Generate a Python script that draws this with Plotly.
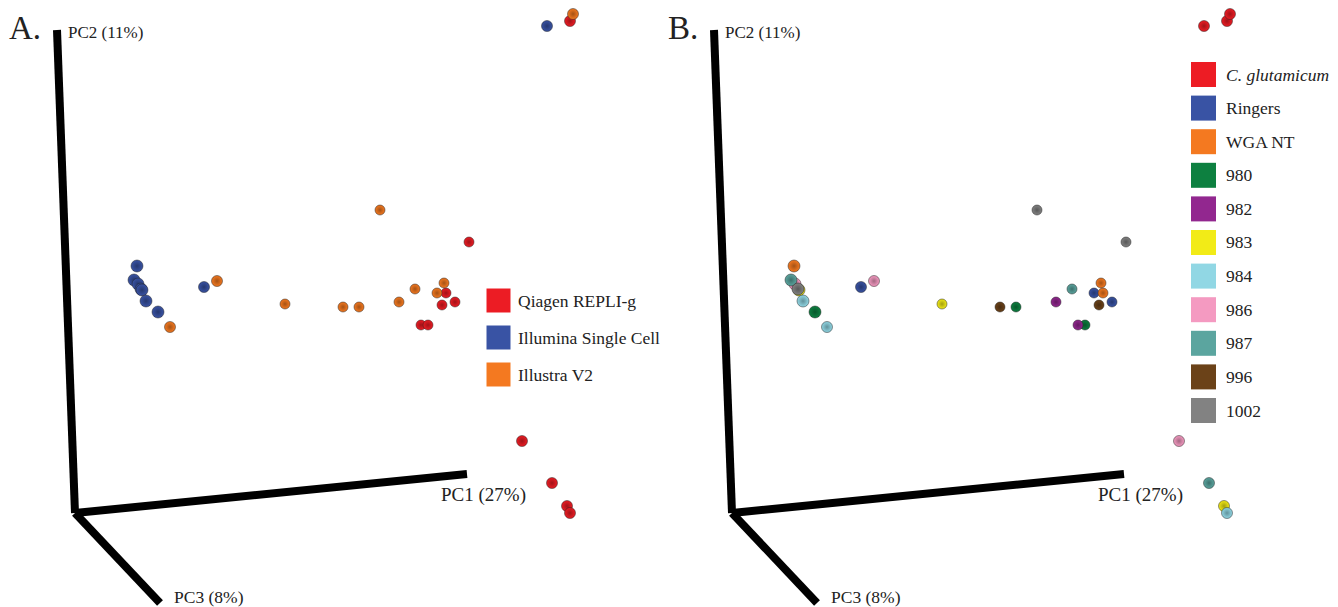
import plotly.graph_objects as go

# ---- data: projected PCoA coordinates (screen-projected, origin at axis corner) ----
proj_x = [62, 59, 63, 66, 67, 71, 83, 95, 129, 142, 210, 268, 284, 305, 394,
          324, 340, 369, 362, 371, 367, 380, 346, 353, 472, 495, 498, 447, 477, 492, 495]
proj_y = [247, 233, 229, 224, 223, 212, 201, 186, 226, 232, 209, 206, 206, 303, 271,
          211, 224, 230, 220, 220, 208, 211, 188, 188, 487, 492, 499, 72, 30, 7, 0]
method = ["Illumina Single Cell"] * 7 + ["Illustra V2", "Illumina Single Cell"] + ["Illustra V2"] * 5 + \
         ["Qiagen REPLI-g"] + ["Illustra V2"] * 4 + ["Qiagen REPLI-g"] * 5 + \
         ["Illumina Single Cell", "Qiagen REPLI-g", "Illustra V2"] + ["Qiagen REPLI-g"] * 4
sample = ["WGA NT", "987", "986", "1002", "983", "984", "980", "984", "Ringers", "986",
          "983", "996", "980", "1002", "1002", "982", "987", "WGA NT", "Ringers", "WGA NT",
          "996", "Ringers", "982", "980", "C. glutamicum", "C. glutamicum", "C. glutamicum",
          "986", "987", "983", "984"]
point_size = [12, 12, 12, 12, 12, 12, 12, 11, 11, 11, 10, 10, 10, 10, 10,
              10, 10, 10, 10, 10, 10, 10, 10, 10, 11, 11, 11, 11, 11, 11, 11]

methods = ["Qiagen REPLI-g", "Illumina Single Cell", "Illustra V2"]
method_colors = ["#ec1c24", "#3953a4", "#f47920"]
samples = ["C. glutamicum", "Ringers", "WGA NT", "980", "982", "983", "984", "986", "987", "996", "1002"]
sample_colors = ["#ed1c24", "#3953a4", "#f47920", "#0d8040", "#92278f", "#f2eb17",
                 "#91d7e4", "#f49ac1", "#5ba59f", "#6b4218", "#828282"]
axis_labels = ["PC1 (27%)", "PC2 (11%)", "PC3 (8%)"]


def darker(hexc, f=0.68):
    r, g, b = int(hexc[1:3], 16), int(hexc[3:5], 16), int(hexc[5:7], 16)
    return "rgb(%d,%d,%d)" % (r * f, g * f, b * f)


W, H = 1338, 607
fig = go.Figure()

panels = [("x", "y", "methods"), ("x2", "y2", "samples")]
for xa, ya, kind in panels:
    cats = methods if kind == "methods" else samples
    cols = method_colors if kind == "methods" else sample_colors
    keys = method if kind == "methods" else sample
    for cat, col in zip(cats, cols):
        idx = [i for i, k in enumerate(keys) if k == cat]
        fig.add_trace(go.Scatter(
            x=[proj_x[i] for i in idx], y=[proj_y[i] for i in idx],
            mode="markers", xaxis=xa, yaxis=ya, showlegend=False, name=cat,
            marker=dict(color=col, size=[point_size[i] for i in idx], opacity=1,
                        gradient=dict(type="radial", color=darker(col)),
                        line=dict(color="rgba(30,30,30,0.6)", width=0.8)),
            hoverinfo="name"))

# ---- axis decoration (3D-style PC axes) ----
origin = (0, 0)
axis_ends = {"PC1": (392, 39), "PC2": (-18, 483), "PC3": (85, -90)}
shapes = []
annotations = []
serif = "Liberation Serif"
for xa, ya in [("x", "y"), ("x2", "y2")]:
    for k, (ex, ey) in axis_ends.items():
        shapes.append(dict(type="line", xref=xa, yref=ya, x0=origin[0], y0=origin[1],
                           x1=ex, y1=ey, line=dict(color="black", width=8), layer="below"))
    annotations += [
        dict(text=axis_labels[1], x=-9, y=481, xref=xa, yref=ya, xanchor="left", yanchor="middle",
             showarrow=False, font=dict(size=17, color="#222", family=serif)),
        dict(text=axis_labels[0], x=364, y=18, xref=xa, yref=ya, xanchor="left", yanchor="middle",
             showarrow=False, font=dict(size=19, color="#222", family=serif)),
        dict(text=axis_labels[2], x=97, y=-84, xref=xa, yref=ya, xanchor="left", yanchor="middle",
             showarrow=False, font=dict(size=17.5, color="#222", family=serif)),
    ]

# panel letters
annotations.append(dict(text="A.", x=7 / W, y=1 - 28 / H, xref="paper", yref="paper",
                        xanchor="left", yanchor="middle", showarrow=False,
                        font=dict(size=33, color="#222", family=serif)))
annotations.append(dict(text="B.", x=666 / W, y=1 - 28 / H, xref="paper", yref="paper",
                        xanchor="left", yanchor="middle", showarrow=False,
                        font=dict(size=33, color="#222", family=serif)))


# ---- custom legends (swatch + label) ----
def legend(cats, cols, x_sw, y0, step, sw, x_txt, italic_first=False):
    for i, (c, col) in enumerate(zip(cats, cols)):
        cy = y0 + i * step
        shapes.append(dict(type="rect", xref="paper", yref="paper",
                           x0=(x_sw - sw / 2) / W, x1=(x_sw + sw / 2) / W,
                           y0=1 - (cy - sw / 2) / H, y1=1 - (cy + sw / 2) / H,
                           fillcolor=col, line=dict(color="rgba(255,255,255,0)", width=0)))
        txt = "<i>%s</i>" % c if (italic_first and i == 0) else c
        annotations.append(dict(text=txt, x=x_txt / W, y=1 - cy / H, xref="paper", yref="paper",
                                xanchor="left", yanchor="middle", showarrow=False,
                                font=dict(size=17.5, color="#222", family=serif)))


legend(methods, method_colors, 498.5, 300.5, 37, 24, 516)
legend(samples, sample_colors, 1203.5, 74.5, 33.6, 25, 1224, italic_first=True)

split = 657 / W
ax_common = dict(visible=False, showgrid=False, zeroline=False, fixedrange=True)
fig.update_layout(
    width=W, height=H, autosize=False,
    margin=dict(l=0, r=0, t=0, b=0),
    paper_bgcolor="white", plot_bgcolor="white",
    xaxis=dict(domain=[0, split], range=[-75, 582], **ax_common),
    xaxis2=dict(domain=[split, 1], range=[-75, 606], **ax_common),
    yaxis=dict(domain=[0, 1], range=[-94, 513], anchor="x", **ax_common),
    yaxis2=dict(domain=[0, 1], range=[-94, 513], anchor="x2", **ax_common),
    shapes=shapes, annotations=annotations,
)

fig.write_html("out.html", config={"displayModeBar": False},
               post_script="document.body.style.margin='0';")
